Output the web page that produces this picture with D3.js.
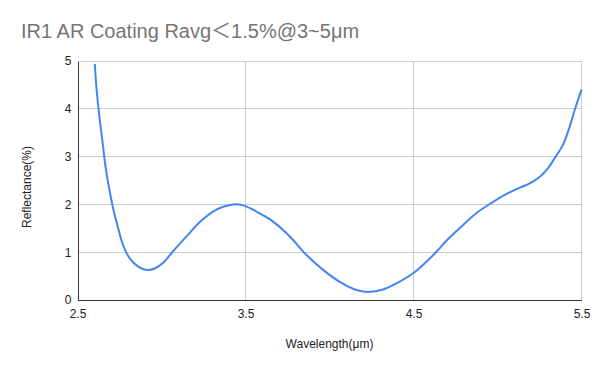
<!DOCTYPE html>
<html><head><meta charset="utf-8">
<script src="https://cdn.jsdelivr.net/npm/d3@7"></script>
<style>body{margin:0;background:#fff}svg{display:block;font-family:"Liberation Sans",Arial,sans-serif}</style>
</head><body><svg id="c" width="600" height="371"></svg>
<script>
const titleParts = ["IR1 AR Coating Ravg", "＜", "1.5%@3~5μm"];
const xLabel = "Wavelength(μm)";
const yLabel = "Reflectance(%)";
const xTicks = [2.5, 3.5, 4.5, 5.5];
const yTicks = [0, 1, 2, 3, 4, 5];
const wavelength = [2.603,2.613,2.629,2.649,2.668,2.688,2.712,2.742,2.771,2.811,2.861,2.911,2.96,3.01,3.069,3.149,3.228,3.307,3.367,3.426,3.486,3.545,3.585,3.664,3.764,3.863,3.962,4.061,4.161,4.24,4.319,4.399,4.498,4.577,4.637,4.696,4.795,4.875,4.964,5.054,5.133,5.192,5.252,5.301,5.341,5.39,5.43,5.46,5.5];
const reflectance = [4.94,4.43,3.87,3.31,2.76,2.34,1.92,1.50,1.15,0.87,0.70,0.63,0.66,0.78,1.02,1.33,1.63,1.85,1.95,2.00,1.98,1.89,1.81,1.64,1.33,0.94,0.63,0.38,0.21,0.17,0.22,0.35,0.56,0.80,1.01,1.24,1.57,1.82,2.03,2.22,2.35,2.44,2.58,2.76,2.97,3.25,3.63,3.98,4.40];

const svg = d3.select("#c");
const L = 77.5, R = 581.5, T = 61, B = 300;
const x = d3.scaleLinear().domain([2.5, 5.5]).range([L, R]);
const y = d3.scaleLinear().domain([0, 5]).range([B, T]);

const tt = svg.append("text").attr("x", 21).attr("y", 38).attr("font-size", 20).attr("fill", "#757575");
tt.selectAll("tspan").data(titleParts).join("tspan")
  .attr("font-family", (d, i) => i === 1 ? "Noto Sans CJK SC" : null)
  .text(d => d);

// gridlines
svg.append("g").selectAll("line").data(yTicks.slice(1)).join("line")
  .attr("x1", L).attr("x2", R).attr("y1", d => y(d)).attr("y2", d => y(d))
  .attr("stroke", "#cccccc").attr("stroke-width", 1).attr("shape-rendering", "crispEdges");
svg.append("g").selectAll("line").data(xTicks.slice(1)).join("line")
  .attr("x1", d => x(d)).attr("x2", d => x(d)).attr("y1", T).attr("y2", B)
  .attr("stroke", "#cccccc").attr("stroke-width", 1).attr("shape-rendering", "crispEdges");

// axes
const xa = svg.append("g").attr("transform", `translate(0,${B})`)
  .call(d3.axisBottom(x).tickValues(xTicks).tickSize(0).tickPadding(9).tickFormat(d3.format(".1f")));
xa.select(".domain").attr("stroke", "#333").attr("shape-rendering", "crispEdges");
xa.selectAll("text").attr("font-size", 12).attr("fill", "#222").attr("font-family", "Liberation Sans, Arial, sans-serif");
const ya = svg.append("g").attr("transform", `translate(${L},0)`)
  .call(d3.axisLeft(y).tickValues(yTicks).tickSize(0).tickPadding(6).tickFormat(d3.format("d")));
ya.select(".domain").attr("stroke", "#333").attr("shape-rendering", "crispEdges");
ya.selectAll("text").attr("font-size", 12).attr("fill", "#222").attr("font-family", "Liberation Sans, Arial, sans-serif");

// line
const pts = wavelength.map((w, i) => [w, reflectance[i]]);
svg.append("path").datum(pts)
  .attr("fill", "none").attr("stroke", "#4285f4").attr("stroke-width", 2).attr("stroke-linejoin", "round")
  .attr("d", d3.line().x(d => x(d[0])).y(d => y(d[1])).curve(d3.curveCatmullRom.alpha(0.5)));

svg.append("text").attr("x", (L + R) / 2).attr("y", 348).attr("text-anchor", "middle")
  .attr("font-size", 12).attr("fill", "#222").text(xLabel);
svg.append("text").attr("transform", `translate(31,187) rotate(-90)`).attr("text-anchor", "middle")
  .attr("font-size", 12).attr("fill", "#222").text(yLabel);
</script></body></html>
